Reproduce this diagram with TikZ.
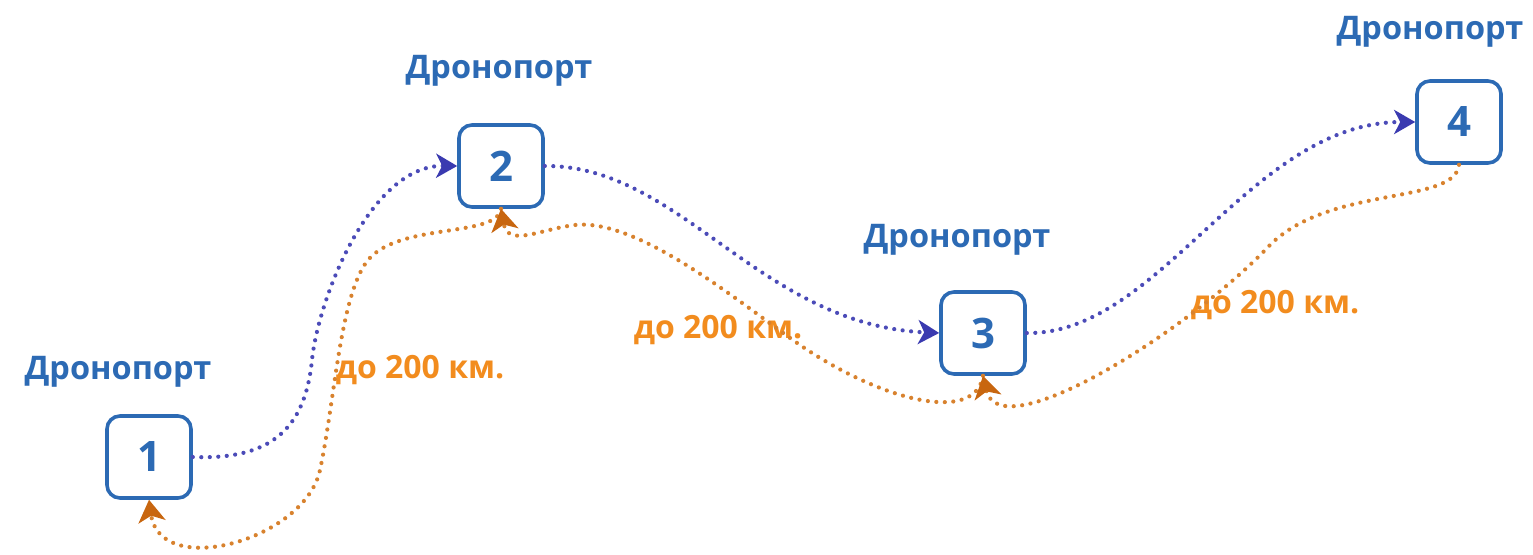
\documentclass[tikz,border=0pt]{standalone}
\usepackage{fontspec}
\setmainfont{Open Sans}
\usetikzlibrary{arrows.meta}
\definecolor{txtblue}{HTML}{2C6AB4}
\definecolor{lineblue}{HTML}{4B4BB8}
\definecolor{arrblue}{HTML}{3A3AB0}
\definecolor{txtorange}{HTML}{F28C1E}
\definecolor{lineorange}{HTML}{D8822E}
\definecolor{arrorange}{HTML}{C8660F}
\tikzset{
 port/.style={draw=txtblue, line width=3.6pt, rounded corners=13pt, minimum width=84pt, minimum height=82pt, fill=white, text=txtblue, font=\bfseries\fontsize{42}{42}\selectfont, inner sep=0pt},
 portlabel/.style={text=txtblue, font=\bfseries\fontsize{32.5}{32.5}\selectfont, inner sep=0pt},
 dist/.style={text=txtorange, font=\bfseries\fontsize{32}{32}\selectfont, inner sep=0pt},
 dotline/.style={line width=4.2pt, dash pattern=on 0pt off 8.5pt, line cap=round},
 fwd/.style={dotline, draw=lineblue, -{Stealth[length=21pt,width=24pt,inset=6pt,color=arrblue]}},
 back/.style={dotline, draw=lineorange, -{Stealth[length=22pt,width=27pt,inset=6pt,color=arrorange]}},
}
\begin{document}
\begin{tikzpicture}[x=1pt,y=-1pt]
\fill[white] (0,0) rectangle (1533,554);
\useasboundingbox (0,0) rectangle (1533,554);

\node[portlabel] (l1) at (118,372) {Дронопорт};
\node[portlabel] (l2) at (499,71) {Дронопорт};
\node[portlabel] (l3) at (957,240) {Дронопорт};
\node[portlabel] (l4) at (1430,32) {Дронопорт};

\node[dist] (d1) at (420,370) {до 200 км.};
\node[dist] (d2) at (718,330) {до 200 км.};
\node[dist] (d3) at (1275,305) {до 200 км.};

\node[port] (b1) at (149,457) {1};
\node[port] (b2) at (501,166) {2};
\node[port] (b3) at (983,333) {3};
\node[port] (b4) at (1459,122) {4};

\draw[fwd] (b1.east) .. controls (270,460) and (305,430) .. (312,360)
  .. controls (318,300) and (370,165) .. (b2.west);
\draw[fwd] (b2.east) .. controls (680,165) and (760,325) .. (b3.west);
\draw[fwd] (b3.east) .. controls (1160,335) and (1250,122) .. (b4.west);

\draw[back] (b2.south) .. controls (497,238) and (400,222) .. (368,260)
  .. controls (340,295) and (335,400) .. (320,470)
  .. controls (305,540) and (160,580) .. (b1.south);
\draw[back] (b3.south) .. controls (975,425) and (880,400) .. (800,345)
  .. controls (745,307) and (640,218) .. (575,225)
  .. controls (540,229) and (508,248) .. (b2.south);
\draw[back] (b4.south) .. controls (1455,205) and (1330,185) .. (1270,245)
  .. controls (1190,330) and (1000,450) .. (b3.south);
\end{tikzpicture}
\end{document}
